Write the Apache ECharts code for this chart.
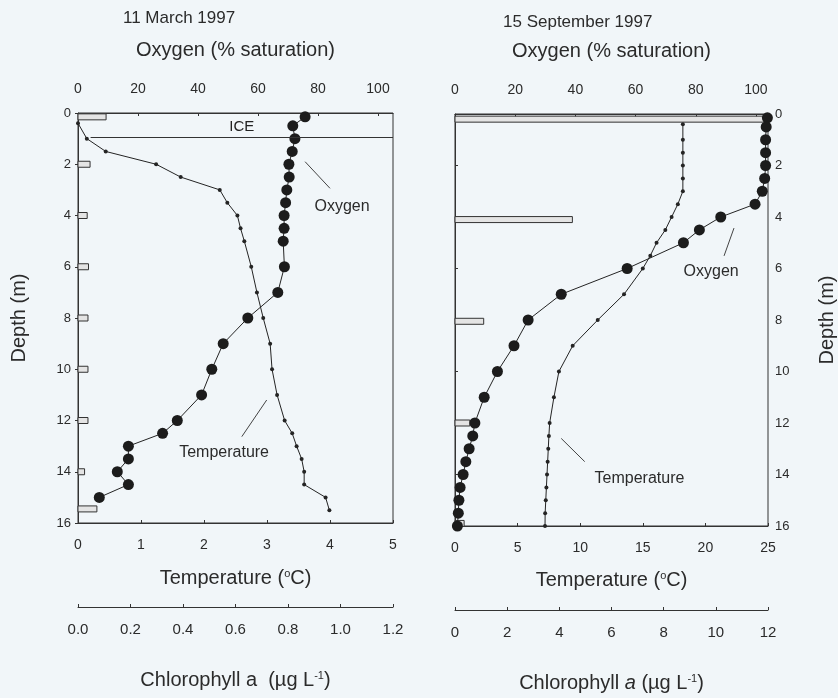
<!DOCTYPE html>
<html>
<head>
<meta charset="utf-8">
<script src="https://cdn.jsdelivr.net/npm/echarts@6/dist/echarts.min.js"></script>
<style>
  html, body { margin: 0; padding: 0; background: #f1f6f9; }
  #main { width: 838px; height: 698px; }
</style>
</head>
<body>
<div id="main"></div>
<script>
// 11 March 1997 (under ice)
var marTempDepth = [0.4, 1.0, 1.5, 2.0, 2.5, 3.0, 3.5, 4.0, 4.5, 5.0, 6.0, 7.0, 8.0, 9.0, 10.0, 11.0, 12.0, 12.5, 13.0, 13.5, 14.0, 14.5, 15.0, 15.5];
var marTemp = [0.0, 0.14, 0.44, 1.24, 1.63, 2.25, 2.37, 2.53, 2.58, 2.64, 2.75, 2.84, 2.94, 3.05, 3.08, 3.16, 3.28, 3.40, 3.47, 3.55, 3.59, 3.59, 3.93, 3.99];
var marOxyDepth = [0.15, 0.5, 1.0, 1.5, 2.0, 2.5, 3.0, 3.5, 4.0, 4.5, 5.0, 6.0, 7.0, 8.0, 9.0, 10.0, 11.0, 12.0, 12.5, 13.0, 13.5, 14.0, 14.5, 15.0];
var marOxy = [75.7, 71.6, 72.3, 71.4, 70.3, 70.4, 69.6, 69.2, 68.7, 68.7, 68.4, 68.8, 66.6, 56.6, 48.4, 44.6, 41.2, 33.1, 28.2, 16.8, 16.8, 13.1, 16.8, 7.1];
var marChlDepth = [0.15, 2.0, 4.0, 6.0, 8.0, 10.0, 12.0, 14.0, 15.45];
var marChl = [0.107, 0.046, 0.035, 0.04, 0.038, 0.038, 0.038, 0.025, 0.072];
var iceDepth = 0.93;

// 15 September 1997
var sepTempDepth = [0.4, 1.0, 1.5, 2.0, 2.5, 3.0, 3.5, 4.0, 4.5, 5.0, 5.5, 6.0, 7.0, 8.0, 9.0, 10.0, 11.0, 12.0, 12.5, 13.0, 13.5, 14.0, 14.5, 15.0, 15.5, 16.0];
var sepTemp = [18.2, 18.2, 18.2, 18.2, 18.2, 18.2, 17.8, 17.3, 16.8, 16.1, 15.6, 15.0, 13.5, 11.4, 9.4, 8.3, 7.9, 7.56, 7.5, 7.45, 7.4, 7.35, 7.3, 7.25, 7.2, 7.19];
var sepOxyDepth = [0.15, 0.5, 1.0, 1.5, 2.0, 2.5, 3.0, 3.5, 4.0, 4.5, 5.0, 6.0, 7.0, 8.0, 9.0, 10.0, 11.0, 12.0, 12.5, 13.0, 13.5, 14.0, 14.5, 15.0, 15.5, 16.0];
var sepOxy = [103.8, 103.4, 103.2, 103.2, 103.2, 102.9, 102.1, 99.7, 88.3, 81.2, 75.9, 57.2, 35.3, 24.3, 19.6, 14.1, 9.7, 6.6, 5.9, 4.7, 3.6, 2.7, 1.7, 1.3, 1.1, 0.8];
var sepChlDepth = [0.2, 4.1, 8.05, 12.0, 15.9];
var sepChl = [11.85, 4.5, 1.1, 0.57, 0.35];

var FONT = 'Liberation Sans, Arial, sans-serif';
var INK = '#242424';
var TXT = '#2b2b2b';

function pairs(vals, depths) {
    var out = [];
    for (var i = 0; i < vals.length; i++) out.push([vals[i], depths[i]]);
    return out;
}

function renderBar(params, api) {
    var p0 = api.coord([0, api.value(1)]);
    var p1 = api.coord([api.value(0), api.value(1)]);
    return {
        type: 'rect',
        shape: { x: p0[0], y: p0[1] - 3, width: Math.max(p1[0] - p0[0], 3), height: 6 },
        style: { fill: '#e4e4e4', stroke: '#333', lineWidth: 1 }
    };
}

var nameStyle = {
    color: TXT, fontFamily: FONT, fontSize: 20,
    rich: {
        sup: { fontSize: 11, verticalAlign: 'top', padding: [0, 0, 9, 0], color: TXT, fontFamily: FONT },
        i: { fontStyle: 'italic', fontSize: 20, color: TXT, fontFamily: FONT }
    }
};
var lineAx = { lineStyle: { color: '#333', width: 1 } };

function xAx(grid, pos, min, max, interval, name, gap, offset, fmt, size) {
    return {
        type: 'value', gridIndex: grid, position: pos, min: min, max: max, interval: interval,
        offset: offset || 0,
        name: name, nameLocation: 'middle', nameGap: gap, nameTextStyle: nameStyle,
        axisLine: lineAx, splitLine: { show: false },
        axisTick: { inside: true, length: 3, lineStyle: { color: '#333' } },
        axisLabel: {
            margin: pos == 'top' ? 17 : 15, showMaxLabel: max % interval === 0 || fmt != null, formatter: fmt,
            color: TXT, fontFamily: FONT, fontSize: size || 14
        }
    };
}

function depthAx(grid, pos) {
    return {
        type: 'value', gridIndex: grid, position: pos, inverse: true, min: 0, max: 16, interval: 2,
        name: 'Depth (m)', nameLocation: 'middle', nameGap: 49, nameTextStyle: nameStyle,
        axisLine: lineAx, splitLine: { show: false },
        axisTick: { length: 3, lineStyle: { color: '#333' } },
        axisLabel: { margin: 7, color: TXT, fontFamily: FONT, fontSize: 13 }
    };
}

var myChart = echarts.init(document.getElementById('main'));
var option = {
    backgroundColor: '#f1f6f9',
    animation: false,
    title: [
        { text: '11 March 1997', left: 118, top: 5, textStyle: { fontFamily: FONT, fontSize: 17, fontWeight: 'normal', color: TXT } },
        { text: '15 September 1997', left: 498, top: 9, textStyle: { fontFamily: FONT, fontSize: 17, fontWeight: 'normal', color: TXT } }
    ],
    grid: [
        { left: 78, top: 113, width: 315, height: 410, show: true, borderColor: '#333', borderWidth: 1, backgroundColor: 'transparent' },
        { left: 455, top: 114, width: 314, height: 412, show: true, borderColor: '#333', borderWidth: 1, backgroundColor: 'transparent' }
    ],
    xAxis: [
        xAx(0, 'top', 0, 105, 20, 'Oxygen (% saturation)', 53),
        xAx(0, 'bottom', 0, 5, 1, 'Temperature ({sup|o}C)', 45),
        xAx(0, 'bottom', 0, 1.2, 0.2, 'Chlorophyll a  (µg L{sup|-1})', 63, 84, function (v) { return v.toFixed(1); }, 15),
        xAx(1, 'top', 0, 104, 20, 'Oxygen (% saturation)', 53),
        xAx(1, 'bottom', 0, 25, 5, 'Temperature ({sup|o}C)', 44),
        xAx(1, 'bottom', 0, 12, 2, 'Chlorophyll {i|a} (µg L{sup|-1})', 63, 84, null, 15)
    ],
    yAxis: [depthAx(0, 'left'), depthAx(1, 'right')],
    series: [
        {
            name: 'Chl Mar', type: 'custom', xAxisIndex: 2, yAxisIndex: 0,
            renderItem: renderBar, data: pairs(marChl, marChlDepth), z: 1
        },
        {
            name: 'Temp Mar', type: 'line', xAxisIndex: 1, yAxisIndex: 0,
            data: pairs(marTemp, marTempDepth),
            symbol: 'circle', symbolSize: 4, itemStyle: { color: INK },
            lineStyle: { color: INK, width: 1 },
            markLine: {
                silent: true, symbol: ['none', 'none'],
                lineStyle: { color: '#333', width: 1, type: 'solid' },
                label: { show: true, position: 'insideMiddleTop', formatter: 'ICE', color: '#222', fontFamily: FONT, fontSize: 15, distance: 2 },
                data: [[{ coord: [0.2, iceDepth] }, { coord: [5, iceDepth] }]]
            },
            z: 3
        },
        {
            name: 'Oxy Mar', type: 'line', xAxisIndex: 0, yAxisIndex: 0,
            data: pairs(marOxy, marOxyDepth),
            symbol: 'circle', symbolSize: 11, itemStyle: { color: '#1c1c1c' },
            lineStyle: { color: INK, width: 1 },
            markLine: {
                silent: true, symbol: ['none', 'none'], label: { show: false },
                lineStyle: { color: '#444', width: 1, type: 'solid' },
                data: [
                    [{ coord: [75.7, 1.9] }, { coord: [84, 2.94] }],
                    [{ coord: [62.9, 11.2] }, { coord: [54.6, 12.63] }]
                ]
            },
            markPoint: {
                symbol: 'circle', symbolSize: 0, silent: true,
                label: { show: true, position: 'inside', formatter: '{b}', color: TXT, fontFamily: FONT, fontSize: 16 },
                data: [
                    { name: 'Oxygen', coord: [88, 3.66] },
                    { name: 'Temperature', coord: [48.7, 13.27] }
                ]
            },
            z: 4
        },
        {
            name: 'Chl Sep', type: 'custom', xAxisIndex: 5, yAxisIndex: 1,
            renderItem: renderBar, data: pairs(sepChl, sepChlDepth), z: 1
        },
        {
            name: 'Temp Sep', type: 'line', xAxisIndex: 4, yAxisIndex: 1,
            data: pairs(sepTemp, sepTempDepth),
            symbol: 'circle', symbolSize: 4, itemStyle: { color: INK },
            lineStyle: { color: INK, width: 1 }, z: 3
        },
        {
            name: 'Oxy Sep', type: 'line', xAxisIndex: 3, yAxisIndex: 1,
            data: pairs(sepOxy, sepOxyDepth), clip: false,
            symbol: 'circle', symbolSize: 11, itemStyle: { color: '#1c1c1c' },
            lineStyle: { color: INK, width: 1 },
            markLine: {
                silent: true, symbol: ['none', 'none'], label: { show: false },
                lineStyle: { color: '#444', width: 1, type: 'solid' },
                data: [
                    [{ coord: [92.7, 4.43] }, { coord: [89.4, 5.51] }],
                    [{ coord: [35.3, 12.6] }, { coord: [43.1, 13.5] }]
                ]
            },
            markPoint: {
                symbol: 'circle', symbolSize: 0, silent: true,
                label: { show: true, position: 'inside', formatter: '{b}', color: TXT, fontFamily: FONT, fontSize: 16 },
                data: [
                    { name: 'Oxygen', coord: [85.1, 6.12] },
                    { name: 'Temperature', coord: [61.3, 14.14] }
                ]
            },
            z: 4
        }
    ]
};
myChart.setOption(option);
</script>
</body>
</html>
